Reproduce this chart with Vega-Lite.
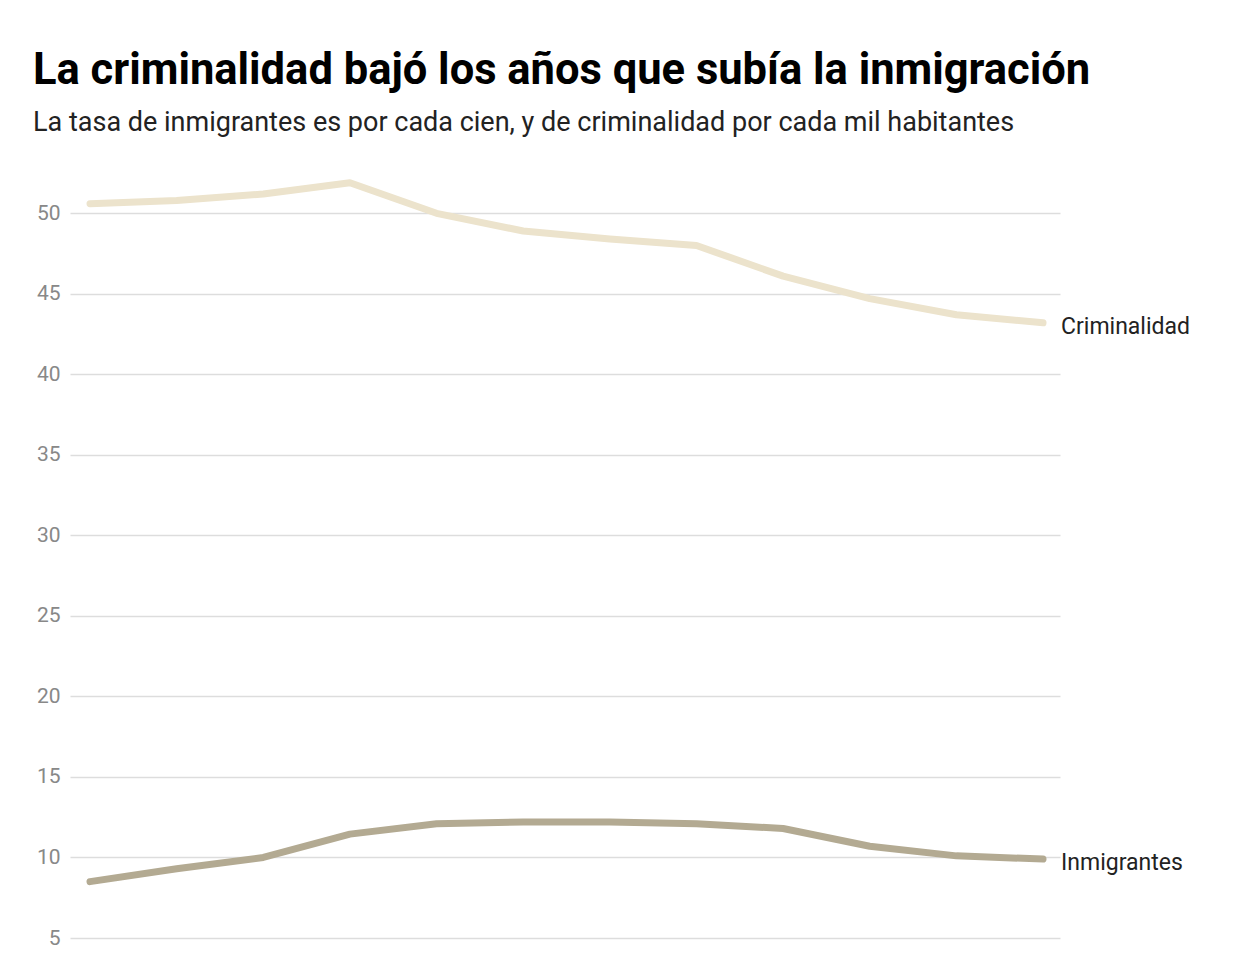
{
  "$schema": "https://vega.github.io/schema/vega-lite/v6.json",
  "autosize": "none",
  "width": 990,
  "height": 773,
  "padding": {"left": 70, "top": 165, "right": 188, "bottom": 36},
  "background": "white",
  "config": {"font": "Roboto", "view": {"stroke": null}},
  "title": {
    "text": "La criminalidad bajó los años que subía la inmigración",
    "subtitle": "La tasa de inmigrantes es por cada cien, y de criminalidad por cada mil habitantes",
    "anchor": "start",
    "frame": "group",
    "dx": -37,
    "offset": 28,
    "fontSize": 43.5,
    "fontWeight": "bold",
    "color": "#000000",
    "subtitleFontSize": 27,
    "subtitleColor": "#222222",
    "subtitlePadding": 17
  },
  "data": {
    "values": [
      {"i": 0, "serie": "Criminalidad", "v": 50.6},
      {"i": 1, "serie": "Criminalidad", "v": 50.8},
      {"i": 2, "serie": "Criminalidad", "v": 51.2},
      {"i": 3, "serie": "Criminalidad", "v": 51.9},
      {"i": 4, "serie": "Criminalidad", "v": 50.0},
      {"i": 5, "serie": "Criminalidad", "v": 48.9},
      {"i": 6, "serie": "Criminalidad", "v": 48.4},
      {"i": 7, "serie": "Criminalidad", "v": 48.0},
      {"i": 8, "serie": "Criminalidad", "v": 46.1},
      {"i": 9, "serie": "Criminalidad", "v": 44.7},
      {"i": 10, "serie": "Criminalidad", "v": 43.7},
      {"i": 11, "serie": "Criminalidad", "v": 43.2},
      {"i": 0, "serie": "Inmigrantes", "v": 8.5},
      {"i": 1, "serie": "Inmigrantes", "v": 9.3},
      {"i": 2, "serie": "Inmigrantes", "v": 10.0},
      {"i": 3, "serie": "Inmigrantes", "v": 11.45},
      {"i": 4, "serie": "Inmigrantes", "v": 12.1},
      {"i": 5, "serie": "Inmigrantes", "v": 12.2},
      {"i": 6, "serie": "Inmigrantes", "v": 12.2},
      {"i": 7, "serie": "Inmigrantes", "v": 12.1},
      {"i": 8, "serie": "Inmigrantes", "v": 11.8},
      {"i": 9, "serie": "Inmigrantes", "v": 10.7},
      {"i": 10, "serie": "Inmigrantes", "v": 10.1},
      {"i": 11, "serie": "Inmigrantes", "v": 9.9}
    ]
  },
  "encoding": {
    "x": {"field": "i", "type": "quantitative", "axis": null, "scale": {"domain": [-0.231, 11.196], "nice": false, "zero": false}},
    "y": {
      "field": "v", "type": "quantitative",
      "scale": {"domain": [5, 53], "nice": false, "zero": false},
      "axis": {
        "title": null, "values": [5, 10, 15, 20, 25, 30, 35, 40, 45, 50],
        "domain": false, "ticks": false, "labelFontSize": 21, "labelColor": "#888888",
        "labelPadding": 10, "gridColor": "#dddddd", "gridWidth": 1.5
      }
    },
    "color": {
      "field": "serie", "type": "nominal", "legend": null,
      "scale": {"domain": ["Criminalidad", "Inmigrantes"], "range": ["#ece3cc", "#b3aa92"]}
    }
  },
  "layer": [
    {"mark": {"type": "line", "strokeWidth": 7, "strokeCap": "round", "strokeJoin": "round"}},
    {
      "transform": [{"filter": "datum.i == 11"}],
      "mark": {"type": "text", "align": "left", "dx": 18, "dy": 4, "fontSize": 23, "color": "#222222"},
      "encoding": {"text": {"field": "serie"}, "color": {"value": "#222222"}}
    }
  ]
}
